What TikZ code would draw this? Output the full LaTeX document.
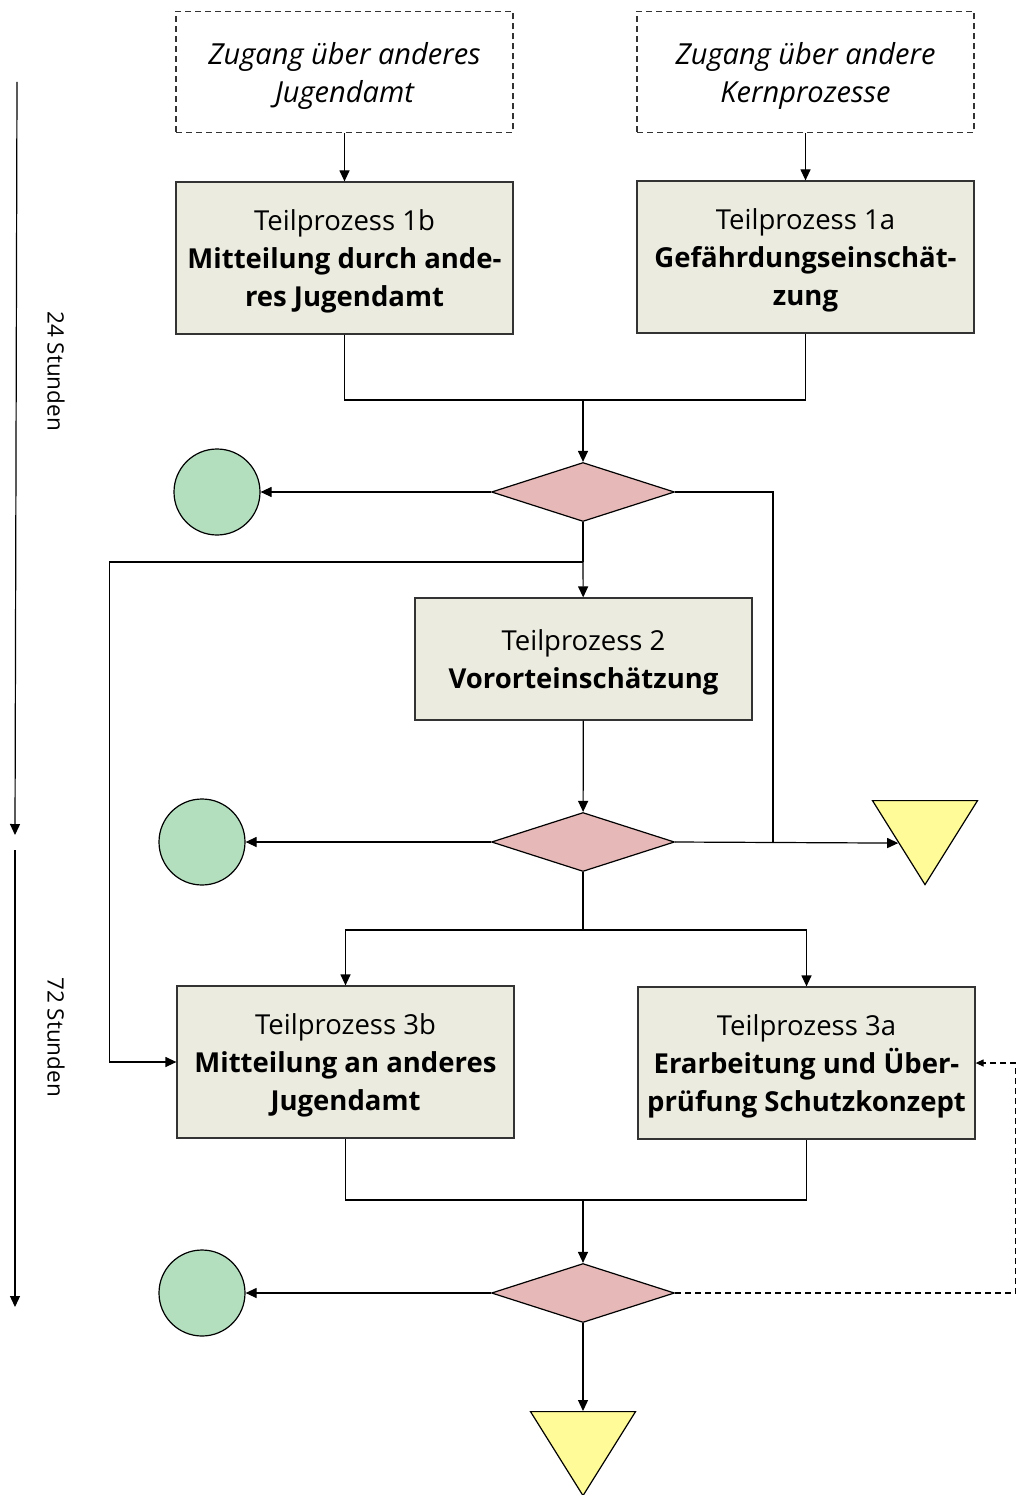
\documentclass[tikz,border=0pt]{standalone}
\usepackage{fontspec}
\setmainfont{Open Sans}
\usetikzlibrary{shapes.geometric,arrows.meta,positioning,calc}

\definecolor{boxfill}{HTML}{ECEBE0}
\definecolor{decfill}{HTML}{E6B8B7}
\definecolor{endfill}{HTML}{B3DFBF}
\definecolor{trifill}{HTML}{FFFB99}
\definecolor{linegray}{HTML}{333333}

\tikzset{
  proc/.style={draw=linegray, line width=1.2pt, fill=boxfill, minimum width=337pt,
    minimum height=152pt, inner sep=0, align=center, text depth=0pt,
    font=\fontsize{27.5}{38}\selectfont},
  entry/.style={draw=linegray, line width=1.2pt, dash pattern=on 6pt off 4pt,
    minimum width=337pt, minimum height=121pt, inner sep=0, align=center, text depth=0pt,
    font=\fontsize{29}{38}\selectfont\itshape},
  decision/.style={diamond, draw, line width=1.2pt, fill=decfill, minimum width=183pt,
    minimum height=59pt, inner sep=0},
  endpt/.style={circle, draw, line width=1.2pt, fill=endfill, minimum size=86pt, inner sep=0},
  stopper/.style={isosceles triangle, shape border rotate=-90, isosceles triangle stretches,
    draw, line width=1.2pt, fill=trifill, minimum width=105pt, minimum height=84pt,
    inner sep=0, anchor=north},
  line/.style={line width=1.2pt},
  flow/.style={line width=1.2pt, -{Triangle[length=11pt,width=10pt]}},
  timelabel/.style={rotate=-90, font=\fontsize{22.5}{26}\selectfont},
}

\begin{document}
\begin{tikzpicture}[x=1pt, y=-1pt]
  \useasboundingbox (0,0) rectangle (1020,1495);

  % Zugaenge
  \node[entry] (zj) at (344.5,72) {Zugang über anderes\\Jugendamt};
  \node[entry] (zk) at (805.5,72) {Zugang über andere\\Kernprozesse};

  % Teilprozesse 1
  \node[proc] (tp1b) at (344.5,258) {Teilprozess 1b\\\textbf{Mitteilung durch ande-}\\\textbf{res Jugendamt}};
  \node[proc] (tp1a) at (805.5,257) {Teilprozess 1a\\\textbf{Gefährdungseinschät-}\\\textbf{zung}};

  \node[decision] (d1) at (583,492) {};
  \node[endpt] (e1) at (217,492) {};

  \node[proc, minimum height=122pt] (tp2) at (583.5,659) {Teilprozess 2\\\textbf{Vororteinschätzung}};

  \node[decision] (d2) at (583,842) {};
  \node[endpt] (e2) at (202,842) {};
  \node[stopper] (s1) at (925,800) {};

  % Teilprozesse 3
  \node[proc] (tp3b) at (345.5,1062) {Teilprozess 3b\\\textbf{Mitteilung an anderes}\\\textbf{Jugendamt}};
  \node[proc] (tp3a) at (806.5,1063) {Teilprozess 3a\\\textbf{Erarbeitung und Über-}\\\textbf{prüfung Schutzkonzept}};

  \node[decision] (d3) at (583,1293) {};
  \node[endpt] (e3) at (202,1293) {};
  \node[stopper] (s2) at (583,1411) {};

  % Zeitachse
  \coordinate (t0) at (17,82);
  \coordinate (t1) at (15,835);
  \coordinate (t2) at (15,850);
  \coordinate (t3) at (15,1307);
  \draw[flow] (t0) -- (t1);
  \draw[flow] (t2) -- (t3);
  \node[timelabel] (l24) at (56,371) {24 Stunden};
  \node[timelabel] (l72) at (56,1037) {72 Stunden};

  % Verbindungen
  \coordinate (m1) at (583,400);
  \coordinate (m2) at (583,562);
  \coordinate (m3) at (583,930);
  \coordinate (m4) at (583,1200);
  \coordinate (j1) at (773,842);
  \coordinate (s1in) at ($(s1.apex)!0.5!(s1.right corner)$);

  \draw[flow] (zj) -- (tp1b);
  \draw[flow] (zk) -- (tp1a);
  \draw[line] (tp1b) |- (m1) -| (tp1a);
  \draw[flow] (m1) -- (d1);
  \draw[flow] (d1) -- (e1);
  \draw[line] (d1.east) -| (j1);
  \draw[line] (d1) -- (m2);
  \draw[flow] (m2) -- (tp2);
  \draw[flow] (m2) -| ([xshift=-67pt]tp3b.west) -- (tp3b.west);
  \draw[flow] (tp2) -- (d2);
  \draw[flow] (d2) -- (e2);
  \draw[flow] (d2.east) -- (s1in);
  \draw[line] (d2) -- (m3);
  \draw[flow] (m3) -| (tp3b);
  \draw[flow] (m3) -| (tp3a);
  \draw[line] (tp3b) |- (m4) -| (tp3a);
  \draw[flow] (m4) -- (d3);
  \draw[flow] (d3) -- (e3);
  \draw[flow] (d3) -- (s2.north);
  \draw[line, dash pattern=on 6pt off 4pt, -{Triangle[length=8pt,width=7pt]}] (d3.east) -| ([xshift=40pt]tp3a.east) -- (tp3a.east);
\end{tikzpicture}
\end{document}
